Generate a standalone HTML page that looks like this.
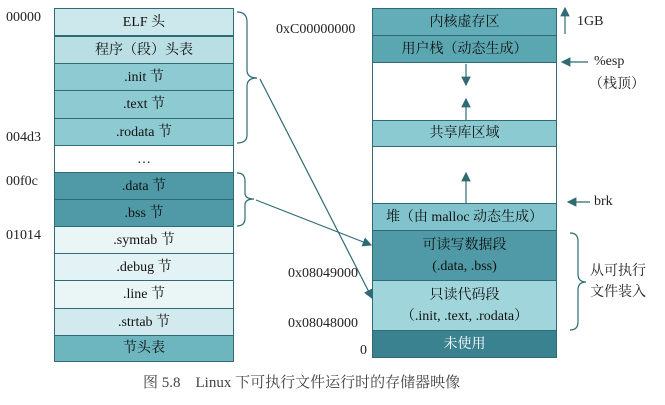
<!DOCTYPE html>
<html><head><meta charset="utf-8"><style>
body{margin:0;width:665px;height:405px;background:#fff;overflow:hidden;position:relative;font-family:"Liberation Serif","Noto Serif CJK SC",serif;color:#222}
.r{position:absolute;box-sizing:border-box;border:1px solid #2e6b75;display:flex;align-items:center;justify-content:center;font-size:14px;text-align:center;line-height:1.5;color:#111}
.l{position:absolute;font-size:14px;line-height:1}
</style></head><body>
<div class="r" style="left:54px;top:8px;width:180px;height:28px;background:#cde8ec">ELF 头</div>
<div class="r" style="left:54px;top:36px;width:180px;height:28px;background:#b9dfe4">程序（段）头表</div>
<div class="r" style="left:54px;top:63px;width:180px;height:28px;background:#8ecad2">.init 节</div>
<div class="r" style="left:54px;top:90px;width:180px;height:29px;background:#8ecad2">.text 节</div>
<div class="r" style="left:54px;top:118px;width:180px;height:28px;background:#8ecad2">.rodata 节</div>
<div class="r" style="left:54px;top:145px;width:180px;height:28px;background:#fff">…</div>
<div class="r" style="left:54px;top:172px;width:180px;height:28px;background:#4f9aa6">.data 节</div>
<div class="r" style="left:54px;top:199px;width:180px;height:28px;background:#4f9aa6">.bss 节</div>
<div class="r" style="left:54px;top:226px;width:180px;height:28px;background:#eaf5f6">.symtab 节</div>
<div class="r" style="left:54px;top:253px;width:180px;height:28px;background:#e3f2f4">.debug 节</div>
<div class="r" style="left:54px;top:280px;width:180px;height:29px;background:#eaf5f6">.line 节</div>
<div class="r" style="left:54px;top:308px;width:180px;height:28px;background:#d2eaee">.strtab 节</div>
<div class="r" style="left:54px;top:335px;width:180px;height:27px;background:#6db5bf">节头表</div>
<div class="l" style="left:6px;top:11px">00000</div>
<div class="l" style="left:6px;top:131px">004d3</div>
<div class="l" style="left:6px;top:175px">00f0c</div>
<div class="l" style="left:6px;top:229px">01014</div>
<div class="r" style="left:372px;top:8px;width:185px;height:28px;background:#62adb8">内核虚存区</div>
<div class="r" style="left:372px;top:35px;width:185px;height:28px;background:#5aa6b1">用户栈（动态生成）</div>
<div class="r" style="left:372px;top:62px;width:185px;height:59px;background:#fff"></div>
<div class="r" style="left:372px;top:120px;width:185px;height:27px;background:#8ccad2">共享库区域</div>
<div class="r" style="left:372px;top:146px;width:185px;height:58px;background:#fff"></div>
<div class="r" style="left:372px;top:203px;width:185px;height:28px;background:#80c3cc">堆（由 malloc 动态生成）</div>
<div class="r" style="left:372px;top:230px;width:185px;height:51px;background:#4f9aa6">可读写数据段<br>(.data, .bss)</div>
<div class="r" style="left:372px;top:280px;width:185px;height:51px;background:#a0d5dc">只读代码段<br>（.init, .text, .rodata）</div>
<div class="r" style="left:372px;top:330px;width:185px;height:28px;background:#3a8290;color:#fff">未使用</div>
<div class="l" style="left:276px;top:23px">0xC00000000</div>
<div class="l" style="left:288px;top:267px">0x08049000</div>
<div class="l" style="left:288px;top:317px">0x08048000</div>
<div class="l" style="left:360px;top:344px">0</div>
<div class="l" style="left:577px;top:15px">1GB</div>
<div class="l" style="left:594px;top:55px">%esp</div>
<div class="l" style="left:589px;top:78px">（栈顶）</div>
<div class="l" style="left:594px;top:195px">brk</div>
<div class="l" style="left:590px;top:261px;line-height:1.5">从可执行<br>文件装入</div>
<div class="l" style="left:143px;top:376px;font-size:15px;color:#444">图 5.8　Linux 下可执行文件运行时的存储器映像</div>
<svg width="665" height="405" style="position:absolute;left:0;top:0" fill="none" stroke="#2e6b75" stroke-width="1.2">
<defs><marker id="a" markerWidth="8" markerHeight="8" refX="7" refY="4" orient="auto"><path d="M0,0 L8,4 L0,8 Z" fill="#2e6b75" stroke="none"/></marker></defs>
<path d="M237,12 Q247,12 247,22 L247,70 Q247,78 257,78 Q247,78 247,86 L247,135 Q247,143 237,143"/>
<path d="M237,173 Q245,173 245,181 L245,193 Q245,199 254,199 Q245,199 245,205 L245,218 Q245,226 237,226"/>
<path d="M570,233 Q578,233 578,241 L578,274 Q578,282 586,282 Q578,282 578,290 L578,322 Q578,330 570,330"/>
<line x1="260" y1="79" x2="372" y2="298" marker-end="url(#a)"/>
<line x1="256" y1="200" x2="371" y2="245" marker-end="url(#a)"/>
<line x1="565" y1="34" x2="565" y2="8" marker-end="url(#a)"/>
<line x1="588" y1="62" x2="562" y2="62" marker-end="url(#a)"/>
<line x1="590" y1="202" x2="568" y2="202" marker-end="url(#a)"/>
<line x1="466" y1="64" x2="466" y2="85" marker-end="url(#a)"/>
<line x1="466" y1="120" x2="466" y2="99" marker-end="url(#a)"/>
<line x1="466" y1="203" x2="466" y2="173" marker-end="url(#a)"/>
</svg>
</body></html>
